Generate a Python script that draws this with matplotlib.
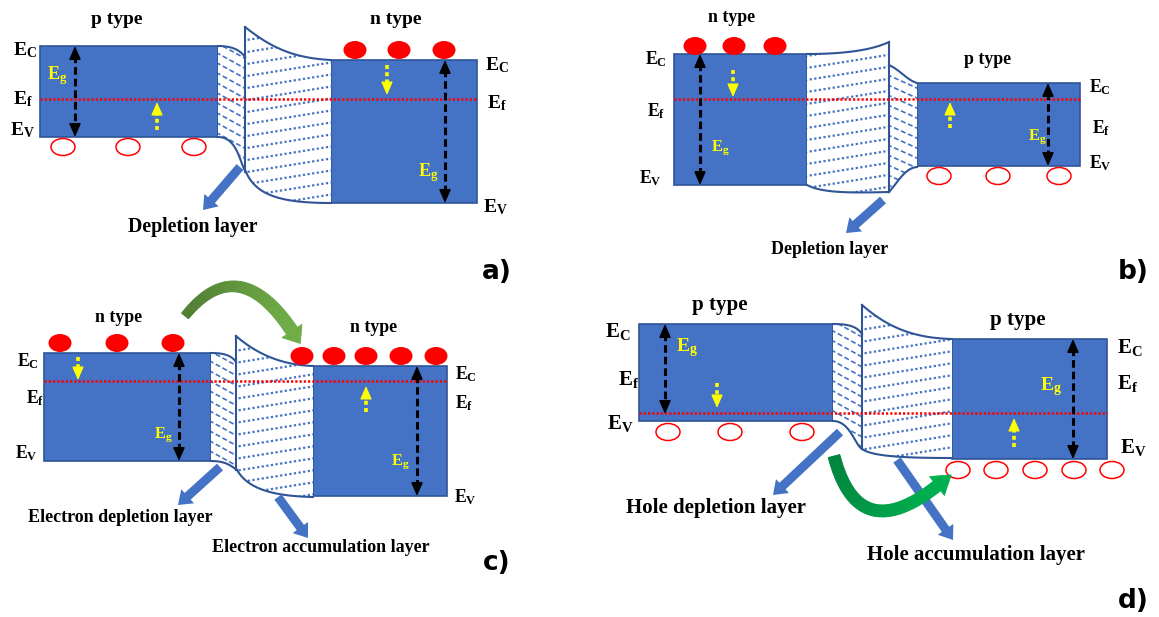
import numpy as np
import matplotlib.pyplot as plt
from matplotlib.patches import Rectangle, Ellipse, Polygon, FancyArrow
from matplotlib.colors import to_rgb

plt.rcParams['mathtext.fontset'] = 'custom'
plt.rcParams['mathtext.rm'] = 'Liberation Serif'
plt.rcParams['mathtext.bf'] = 'Liberation Serif:bold'
plt.rcParams['font.family'] = ['Liberation Serif', 'DejaVu Serif']

BLUE = '#4472C4'
EDGE = '#2F5597'

# ---- panel a : p type / n type ----
a_blocks = [(40, 218, 46, 137), (331, 477, 60, 203)]        # x0, x1, Ec, Ev
a_fermi = (40, 477, 99)
a_nar = [[(218, 46), (232, 46), (240, 50), (245, 57)],
         [(218, 137), (238, 137), (240, 165), (246, 172)]]
a_wide = [[(245, 27), (268, 45), (290, 58), (331, 60)],
          [(246, 172), (256, 195), (280, 203), (331, 203)]]
a_divider = (245, 27, 172)
a_gap = [(75, 46, 137), (445, 60, 203)]
a_shift = [(157, 130, 102), (387, 65, 95)]
a_electrons = [([355, 399, 444], 50)]
a_holes = [([63, 128, 194], 147)]
a_types = [('p type', 117, 20), ('n type', 396, 20)]
a_elabels = [('C', 13, 50), ('f', 13, 99), ('V', 10, 130),
             ('C', 485, 65), ('f', 487, 103), ('V', 483, 207)]
a_eg = [(57, 76), (428, 173)]
a_pointers = [(240, 167, 203, 210)]
a_captions = [('Depletion layer', 193, 227)]

# ---- panel b : n type / p type ----
b_blocks = [(674, 807, 54, 185), (917, 1080, 83, 166)]
b_fermi = (674, 1080, 99)
b_nar = [[(889, 65), (900, 70), (907, 80), (917, 83)],
         [(889, 192), (898, 182), (905, 168), (917, 167)]]
b_wide = [[(807, 54), (845, 54), (872, 50), (889, 42)],
          [(807, 185), (822, 193), (850, 193), (889, 192)]]
b_divider = (889, 42, 192)
b_gap = [(700, 54, 185), (1048, 83, 166)]
b_shift = [(733, 70, 97), (950, 128, 102)]
b_electrons = [([695, 734, 775], 46)]
b_holes = [([939, 998, 1059], 176)]
b_types = [('n type', 732, 17), ('p type', 988, 60)]
b_elabels = [('C', 645, 59), ('f', 647, 111), ('V', 639, 178),
             ('C', 1089, 87), ('f', 1092, 128), ('V', 1089, 163)]
b_eg = [(720, 148), (1037, 137)]
b_pointers = [(883, 200, 846, 233)]
b_captions = [('Depletion layer', 830, 249)]

# ---- panel c : n type / n type ----
c_blocks = [(44, 211, 353, 461), (313, 447, 366, 496)]
c_fermi = (44, 447, 381)
c_nar = [[(211, 353), (225, 353), (232, 356), (236, 362)],
         [(211, 461), (226, 461), (231, 466), (237, 470)]]
c_wide = [[(236, 336), (258, 355), (283, 365), (313, 366)],
          [(237, 470), (247, 487), (268, 496), (313, 497)]]
c_divider = (236, 336, 470)
c_gap = [(179, 353, 461), (417, 366, 496)]
c_shift = [(78, 357, 380), (366, 412, 386)]
c_electrons = [([60, 117, 173], 343), ([302, 334, 366, 401, 436], 356)]
c_holes = []
c_types = [('n type', 119, 318), ('n type', 374, 328)]
c_elabels = [('C', 17, 361), ('f', 26, 398), ('V', 15, 453),
             ('C', 455, 374), ('f', 455, 403), ('V', 454, 497)]
c_eg = [(163, 435), (400, 462)]
c_pointers = [(220, 467, 178, 505), (278, 497, 308, 538)]
c_captions = [('Electron depletion layer', 120, 518),
              ('Electron accumulation layer', 321, 547)]
c_transfer = [(185, 316), (238, 250), (292, 331)]

# ---- panel d : p type / p type ----
d_blocks = [(639, 833, 324, 421), (952, 1107, 339, 459)]
d_fermi = (639, 1107, 413)
d_nar = [[(833, 324), (850, 324), (857, 327), (862, 334)],
         [(833, 421), (850, 421), (855, 445), (862, 449)]]
d_wide = [[(862, 305), (885, 325), (910, 338), (952, 339)],
          [(862, 449), (872, 456), (900, 458), (952, 458)]]
d_divider = (862, 305, 449)
d_gap = [(665, 324, 414), (1073, 339, 459)]
d_shift = [(717, 383, 408), (1014, 447, 418)]
d_electrons = []
d_holes = [([668, 730, 802], 432), ([958, 996, 1035, 1074, 1112], 470)]
d_types = [('p type', 720, 305), ('p type', 1018, 320)]
d_elabels = [('C', 605, 332), ('f', 618, 380), ('V', 607, 423),
             ('C', 1117, 347), ('f', 1117, 383), ('V', 1120, 447)]
d_eg = [(687, 348), (1051, 387)]
d_pointers = [(840, 432, 773, 495), (897, 460, 953, 540)]
d_captions = [('Hole depletion layer', 716, 508),
              ('Hole accumulation layer', 976, 555)]
d_transfer = [(834, 456), (858, 548), (937, 486)]

letters = [('a)', 482, 272), ('b)', 1118, 272), ('c)', 483, 563), ('d)', 1118, 601)]

fig = plt.figure(figsize=(11.59, 6.17), dpi=100)
ax = fig.add_axes([0, 0, 1, 1])
ax.set_xlim(0, 1159)
ax.set_ylim(617, 0)
ax.axis('off')


def bezier(ctrl, n=40):
    p = np.array(ctrl, float)
    t = np.linspace(0, 1, n)[:, None]
    return (1 - t)**3 * p[0] + 3 * t * (1 - t)**2 * p[1] + 3 * t**2 * (1 - t) * p[2] + t**3 * p[3]


def segment(top, bot, slope, gap, ls, lw):
    t = bezier(top)
    b = bezier(bot)
    poly = Polygon(np.vstack([t, b[::-1]]), closed=True, fc='white', ec='none', zorder=2)
    ax.add_patch(poly)
    x0 = min(t[:, 0].min(), b[:, 0].min()) - 2
    x1 = max(t[:, 0].max(), b[:, 0].max()) + 2
    y0, y1 = t[:, 1].min(), b[:, 1].max()
    span = abs(slope) * (x1 - x0)
    for yy in np.arange(y0 - span + 4, y1 + span, gap):
        ln, = ax.plot([x0, x1], [yy, yy + slope * (x1 - x0)], color=BLUE, lw=lw, ls=ls, zorder=2.5)
        ln.set_clip_path(poly)
    ax.plot(t[:, 0], t[:, 1], color=EDGE, lw=1.5, zorder=3)
    ax.plot(b[:, 0], b[:, 1], color=EDGE, lw=1.5, zorder=3)


def curved_arrow(ctrl, w0, w1, hw, hl, c0, c1, n=60):
    p0, p1, p2 = [np.array(p, float) for p in ctrl]
    t = np.linspace(0, 1, n)[:, None]
    pts = (1 - t)**2 * p0 + 2 * t * (1 - t) * p1 + t**2 * p2
    d = 2 * (1 - t) * (p1 - p0) + 2 * t * (p2 - p1)
    d /= np.linalg.norm(d, axis=1)[:, None]
    nrm = np.column_stack([-d[:, 1], d[:, 0]])
    w = (w0 + (w1 - w0) * t) / 2
    lft, rgt = pts + nrm * w, pts - nrm * w
    ca, cb = np.array(to_rgb(c0)), np.array(to_rgb(c1))
    for i in range(n - 1):
        col = ca + (cb - ca) * (i / (n - 2))
        ax.add_patch(Polygon([lft[i], lft[i + 1], rgt[i + 1], rgt[i]], closed=True,
                             fc=col, ec=col, lw=0.6, zorder=5))
    tip = p2 + d[-1] * hl
    ax.add_patch(Polygon([p2 + nrm[-1] * hw / 2, tip, p2 - nrm[-1] * hw / 2], closed=True,
                         fc=cb, ec=cb, lw=0.6, zorder=5))


def panel(blocks, fermi, nar, wide, divider, gap, shift, electrons, holes,
          types, elabels, eg, pointers, captions, fs, cap_fs, nar_slope):
    for x0, x1, ec, ev in blocks:
        ax.add_patch(Rectangle((x0, ec), x1 - x0, ev - ec, fc=BLUE, ec=EDGE, lw=1.2, zorder=2))
    segment(nar[0], nar[1], nar_slope, 10, (0, (3, 1.6)), 1.2)
    segment(wide[0], wide[1], -0.16, 12, (0, (1, 1.1)), 1.6)
    xd, yd0, yd1 = divider
    ax.plot([xd, xd], [yd0, yd1], color=EDGE, lw=1.5, zorder=3)
    ax.plot([fermi[0], fermi[1]], [fermi[2], fermi[2]], color='#FF0000', lw=1.8,
            ls=(0, (0.9, 0.8)), zorder=3.5)
    for x, yt, yb in gap:
        ax.plot([x, x], [yt + 9, yb - 9], color='black', lw=2.2, ls=(0, (2.5, 1.3)), zorder=4)
        for y_from, y_to in ((yt + 11, yt), (yb - 11, yb)):
            ax.annotate('', xy=(x, y_to), xytext=(x, y_from),
                        arrowprops=dict(arrowstyle='-|>,head_length=0.8,head_width=0.35',
                                        color='black', lw=1.2, shrinkA=0, shrinkB=0), zorder=4)
    for x, y0, y1 in shift:
        sgn = np.sign(y1 - y0)
        ax.plot([x, x], [y0, y1 - sgn * 8], color='#FFFF00', lw=2.6, ls=(0, (1.1, 0.9)), zorder=4)
        ax.annotate('', xy=(x, y1), xytext=(x, y1 - sgn * 9),
                    arrowprops=dict(arrowstyle='-|>,head_length=0.8,head_width=0.35',
                                    color='#FFFF00', lw=1, shrinkA=0, shrinkB=0), zorder=4)
    for xs, y in electrons:
        for x in xs:
            ax.add_patch(Ellipse((x, y), 23, 18, fc='#FF0000', ec='none', zorder=4))
    for xs, y in holes:
        for x in xs:
            ax.add_patch(Ellipse((x, y), 24, 17, fc='none', ec='#FF0000', lw=1.1, zorder=4))
    for s, x, y in types:
        ax.text(x, y, s, fontsize=fs, fontweight='bold', ha='center', va='center')
    for sub, x, y in elabels:
        ax.text(x, y, r'$\mathbf{E_{%s}}$' % sub, fontsize=fs, ha='left', va='center')
    for x, y in eg:
        ax.text(x, y, r'$\mathbf{E_{g}}$', fontsize=fs - 1, color='#FFFF00',
                ha='center', va='center', zorder=4)
    for x0, y0, x1, y1 in pointers:
        ax.add_patch(FancyArrow(x0, y0, x1 - x0, y1 - y0, width=9, head_width=19,
                                head_length=13, length_includes_head=True,
                                fc=BLUE, ec='none', zorder=4))
    for s, x, y in captions:
        ax.text(x, y, s, fontsize=cap_fs, fontweight='bold', ha='center', va='center')


panel(a_blocks, a_fermi, a_nar, a_wide, a_divider, a_gap, a_shift, a_electrons, a_holes,
      a_types, a_elabels, a_eg, a_pointers, a_captions, 14, 14.3, 0.55)
panel(b_blocks, b_fermi, b_nar, b_wide, b_divider, b_gap, b_shift, b_electrons, b_holes,
      b_types, b_elabels, b_eg, b_pointers, b_captions, 12.8, 12.9, 0.45)
panel(c_blocks, c_fermi, c_nar, c_wide, c_divider, c_gap, c_shift, c_electrons, c_holes,
      c_types, c_elabels, c_eg, c_pointers, c_captions, 12.8, 13, 0.55)
panel(d_blocks, d_fermi, d_nar, d_wide, d_divider, d_gap, d_shift, d_electrons, d_holes,
      d_types, d_elabels, d_eg, d_pointers, d_captions, 15, 15, 0.55)

curved_arrow(c_transfer, 9, 13, 24, 15, '#507E32', '#70AD47')
curved_arrow(d_transfer, 12, 12, 24, 18, '#00843D', '#00B050')

for s, x, y in letters:
    ax.text(x, y, s, fontsize=19, fontweight='bold', family='DejaVu Sans',
            ha='left', va='center')

fig.savefig('out.png', dpi=100)
